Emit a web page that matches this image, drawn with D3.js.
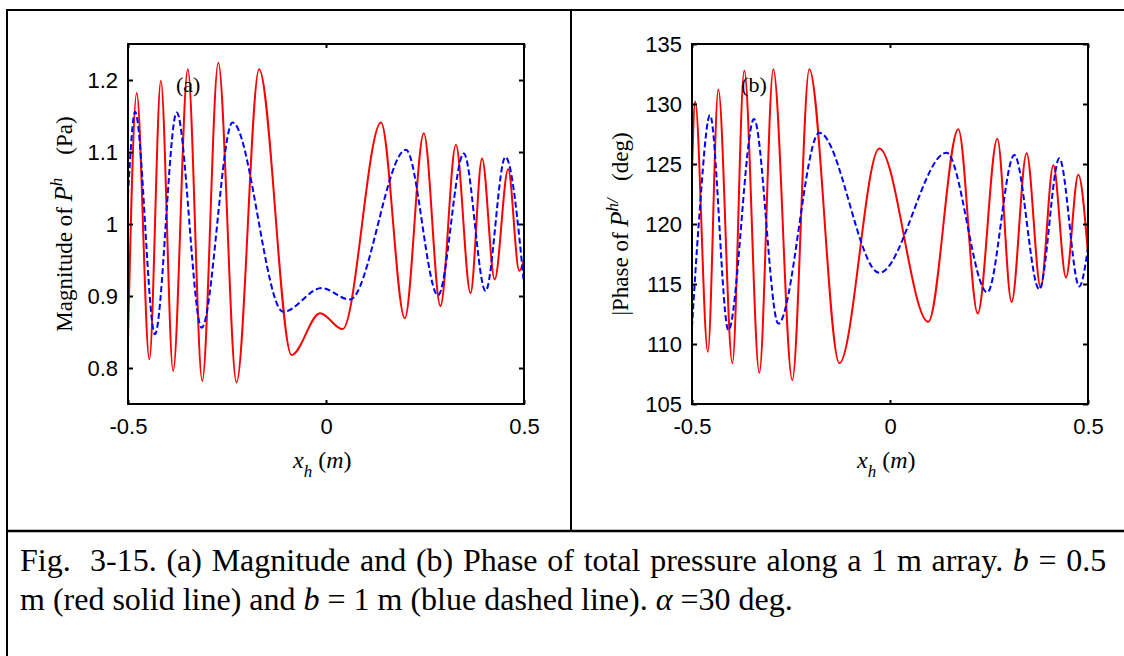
<!DOCTYPE html>
<html>
<head>
<meta charset="utf-8">
<script src="https://cdn.jsdelivr.net/npm/d3@7.9.0/dist/d3.min.js"></script>
<style>
  html, body { margin: 0; padding: 0; background: #fff; }
  svg { display: block; }
  text { white-space: pre; }
</style>
</head>
<body>
<svg id="fig" width="1124" height="656"></svg>
<script>
// x positions along the array (m) and tick labels
const xTicks = [-0.5, 0, 0.5];
const magTicks = [0.8, 0.9, 1, 1.1, 1.2];
const phaseTicks = [105, 110, 115, 120, 125, 130, 135];

// (a) magnitude, b = 0.5 m (red solid)
const magRedX = [-0.5, -0.478, -0.446, -0.417, -0.386, -0.349, -0.3125, -0.272, -0.226, -0.169, -0.087, -0.015, 0.042, 0.139, 0.199, 0.247, 0.289, 0.328, 0.365, 0.394, 0.426, 0.46, 0.488, 0.5];
const magRedY = [0.84, 1.182, 0.812, 1.199, 0.796, 1.215, 0.782, 1.224, 0.78, 1.215, 0.818, 0.876, 0.854, 1.141, 0.869, 1.126, 0.886, 1.11, 0.904, 1.091, 0.923, 1.076, 0.935, 0.95];
// (a) magnitude, b = 1 m (blue dashed)
const magBlueX = [-0.5, -0.482, -0.432, -0.377, -0.314, -0.236, -0.108, -0.011, 0.06, 0.202, 0.283, 0.348, 0.403, 0.453, 0.5];
const magBlueY = [1.04, 1.156, 0.847, 1.155, 0.856, 1.141, 0.878, 0.911, 0.895, 1.103, 0.901, 1.098, 0.907, 1.093, 0.916];

// (b) phase, b = 0.5 m (red solid)
const phaseRedX = [-0.5, -0.492, -0.46, -0.4335, -0.398, -0.368, -0.33, -0.2947, -0.2467, -0.2038, -0.128, -0.027, 0.0967, 0.1725, 0.2215, 0.271, 0.307, 0.345, 0.3805, 0.4124, 0.4444, 0.4755, 0.5];
const phaseRedY = [124.4, 130.2, 109.35, 131.2, 108.4, 132.8, 107.6, 132.9, 107.0, 132.9, 108.4, 126.3, 111.85, 127.9, 112.55, 127.1, 113.5, 125.9, 114.7, 124.9, 115.55, 124.1, 117.5];
// (b) phase, b = 1 m (blue dashed)
const phaseBlueX = [-0.5, -0.483, -0.4545, -0.408, -0.3434, -0.282, -0.1785, -0.027, 0.143, 0.2457, 0.314, 0.377, 0.4276, 0.478, 0.5];
const phaseBlueY = [111.4, 120.0, 129.07, 111.15, 128.74, 111.7, 127.6, 115.93, 125.93, 114.3, 125.74, 114.55, 125.47, 114.8, 118.0];

const svg = d3.select('#fig');
const SANS = '"Liberation Sans", Arial, sans-serif';
const SERIF = '"Liberation Serif", "Times New Roman", serif';

// table frame
const frame = svg.append('g').attr('stroke', '#000').attr('stroke-width', 2);
frame.append('line').attr('x1', 6).attr('y1', 10).attr('x2', 1124).attr('y2', 10);
frame.append('line').attr('x1', 7).attr('y1', 10).attr('x2', 7).attr('y2', 656);
frame.append('line').attr('x1', 571).attr('y1', 10).attr('x2', 571).attr('y2', 531);
frame.append('line').attr('x1', 6).attr('y1', 531).attr('x2', 1124).attr('y2', 531).attr('stroke-width', 2.5);

function drawPanel(p) {
    const x = d3.scaleLinear().domain([-0.5, 0.5]).range([p.left, p.left + 396]);
    const y = d3.scaleLinear().domain(p.yDomain).range([404, 44]);
    const g = svg.append('g');

    const line = d3.line()
        .x((d) => x(d[0]))
        .y((d) => y(d[1]))
        .curve(d3.curveMonotoneX);

    g.append('path')
        .datum(d3.zip(p.redX, p.redY))
        .attr('d', line)
        .attr('fill', 'none')
        .attr('stroke', '#ff0000')
        .attr('stroke-width', 2);

    g.append('path')
        .datum(d3.zip(p.blueX, p.blueY))
        .attr('d', line)
        .attr('fill', 'none')
        .attr('stroke', '#0000ff')
        .attr('stroke-width', 2)
        .attr('stroke-dasharray', '6,3');

    // axes, matlab style ticks pointing inwards
    const left = g.append('g').attr('transform', `translate(${p.left},0)`)
        .call(d3.axisLeft(y).tickValues(p.yTicks).tickSize(-5).tickPadding(10).tickFormat((d) => String(d)));
    const right = g.append('g').attr('transform', `translate(${p.left + 396},0)`)
        .call(d3.axisRight(y).tickValues(p.yTicks).tickSize(-5).tickFormat(''));
    const bottom = g.append('g').attr('transform', 'translate(0,404)')
        .call(d3.axisBottom(x).tickValues(xTicks).tickSize(-4).tickPadding(14).tickFormat((d) => String(d)));
    const top = g.append('g').attr('transform', 'translate(0,44)')
        .call(d3.axisTop(x).tickValues(xTicks).tickSize(-4).tickFormat(''));

    [left, right, bottom, top].forEach((a) => {
        a.select('.domain').remove();
        a.selectAll('line').attr('stroke', '#000').attr('stroke-width', 2);
        a.selectAll('text').attr('font-family', SANS).attr('font-size', 22).attr('fill', '#000');
    });

    g.append('rect')
        .attr('x', p.left).attr('y', 44)
        .attr('width', 396).attr('height', 360)
        .attr('fill', 'none')
        .attr('stroke', '#000')
        .attr('stroke-width', 2);

    // panel tag
    g.append('text')
        .attr('x', x(p.tagPos[0])).attr('y', y(p.tagPos[1]))
        .attr('font-family', SERIF).attr('font-size', 22)
        .text(p.tag);

    // x label
    const xl = g.append('text')
        .attr('x', x(0) - 33).attr('y', 468)
        .attr('font-family', SERIF).attr('font-size', 24);
    xl.append('tspan').attr('font-style', 'italic').text('x');
    xl.append('tspan').attr('font-style', 'italic').attr('font-size', 17).attr('dy', 9).text('h');
    xl.append('tspan').attr('dy', -9).text(' (');
    xl.append('tspan').attr('font-style', 'italic').text('m');
    xl.append('tspan').text(')');

    // y label
    const yl = g.append('text')
        .attr('transform', `translate(${p.yLabelX},${p.yLabelY}) rotate(-90)`)
        .attr('text-anchor', 'middle')
        .attr('font-family', SERIF).attr('font-size', 23);
    yl.append('tspan').text(p.yLabel[0]);
    yl.append('tspan').attr('font-style', 'italic').attr('font-size', 25).text('P');
    yl.append('tspan').attr('font-style', 'italic').attr('font-size', 17).attr('dy', -10).text(p.yLabel[1]);
    yl.append('tspan').attr('dy', 10).text(p.yLabel[2]);
}

drawPanel({
    left: 128,
    yDomain: [0.75, 1.25],
    yTicks: magTicks,
    redX: magRedX, redY: magRedY,
    blueX: magBlueX, blueY: magBlueY,
    tag: '(a)', tagPos: [-0.379, 1.183],
    yLabelX: 72, yLabelY: 224,
    yLabel: ['Magnitude of ', 'h', '    (Pa)']
});

drawPanel({
    left: 692,
    yDomain: [105, 135],
    yTicks: phaseTicks,
    redX: phaseRedX, redY: phaseRedY,
    blueX: phaseBlueX, blueY: phaseBlueY,
    tag: '(b)', tagPos: [-0.376, 131],
    yLabelX: 628, yLabelY: 224,
    yLabel: ['|Phase of ', 'h/', '   (deg)']
});

// caption, first line justified to the cell width with word spacing
const cap = svg.append('g').attr('font-family', SERIF).attr('font-size', 32).attr('fill', '#000');
const l1 = cap.append('text').attr('x', 20).attr('y', 571);
l1.append('tspan').text('Fig.  3-15. (a) Magnitude and (b) Phase of total pressure along a 1 m array. ');
l1.append('tspan').attr('font-style', 'italic').text('b');
l1.append('tspan').text(' = 0.5');
const natural = l1.node().getComputedTextLength();
const gaps = 19;
l1.attr('word-spacing', Math.max(0, (1088 - natural) / gaps));

const l2 = cap.append('text').attr('x', 20).attr('y', 610);
l2.append('tspan').text('m (red solid line) and ');
l2.append('tspan').attr('font-style', 'italic').text('b');
l2.append('tspan').text(' = 1 m (blue dashed line). ');
l2.append('tspan').attr('font-style', 'italic').text('α');
l2.append('tspan').text(' =30 deg.');
</script>
</body>
</html>
